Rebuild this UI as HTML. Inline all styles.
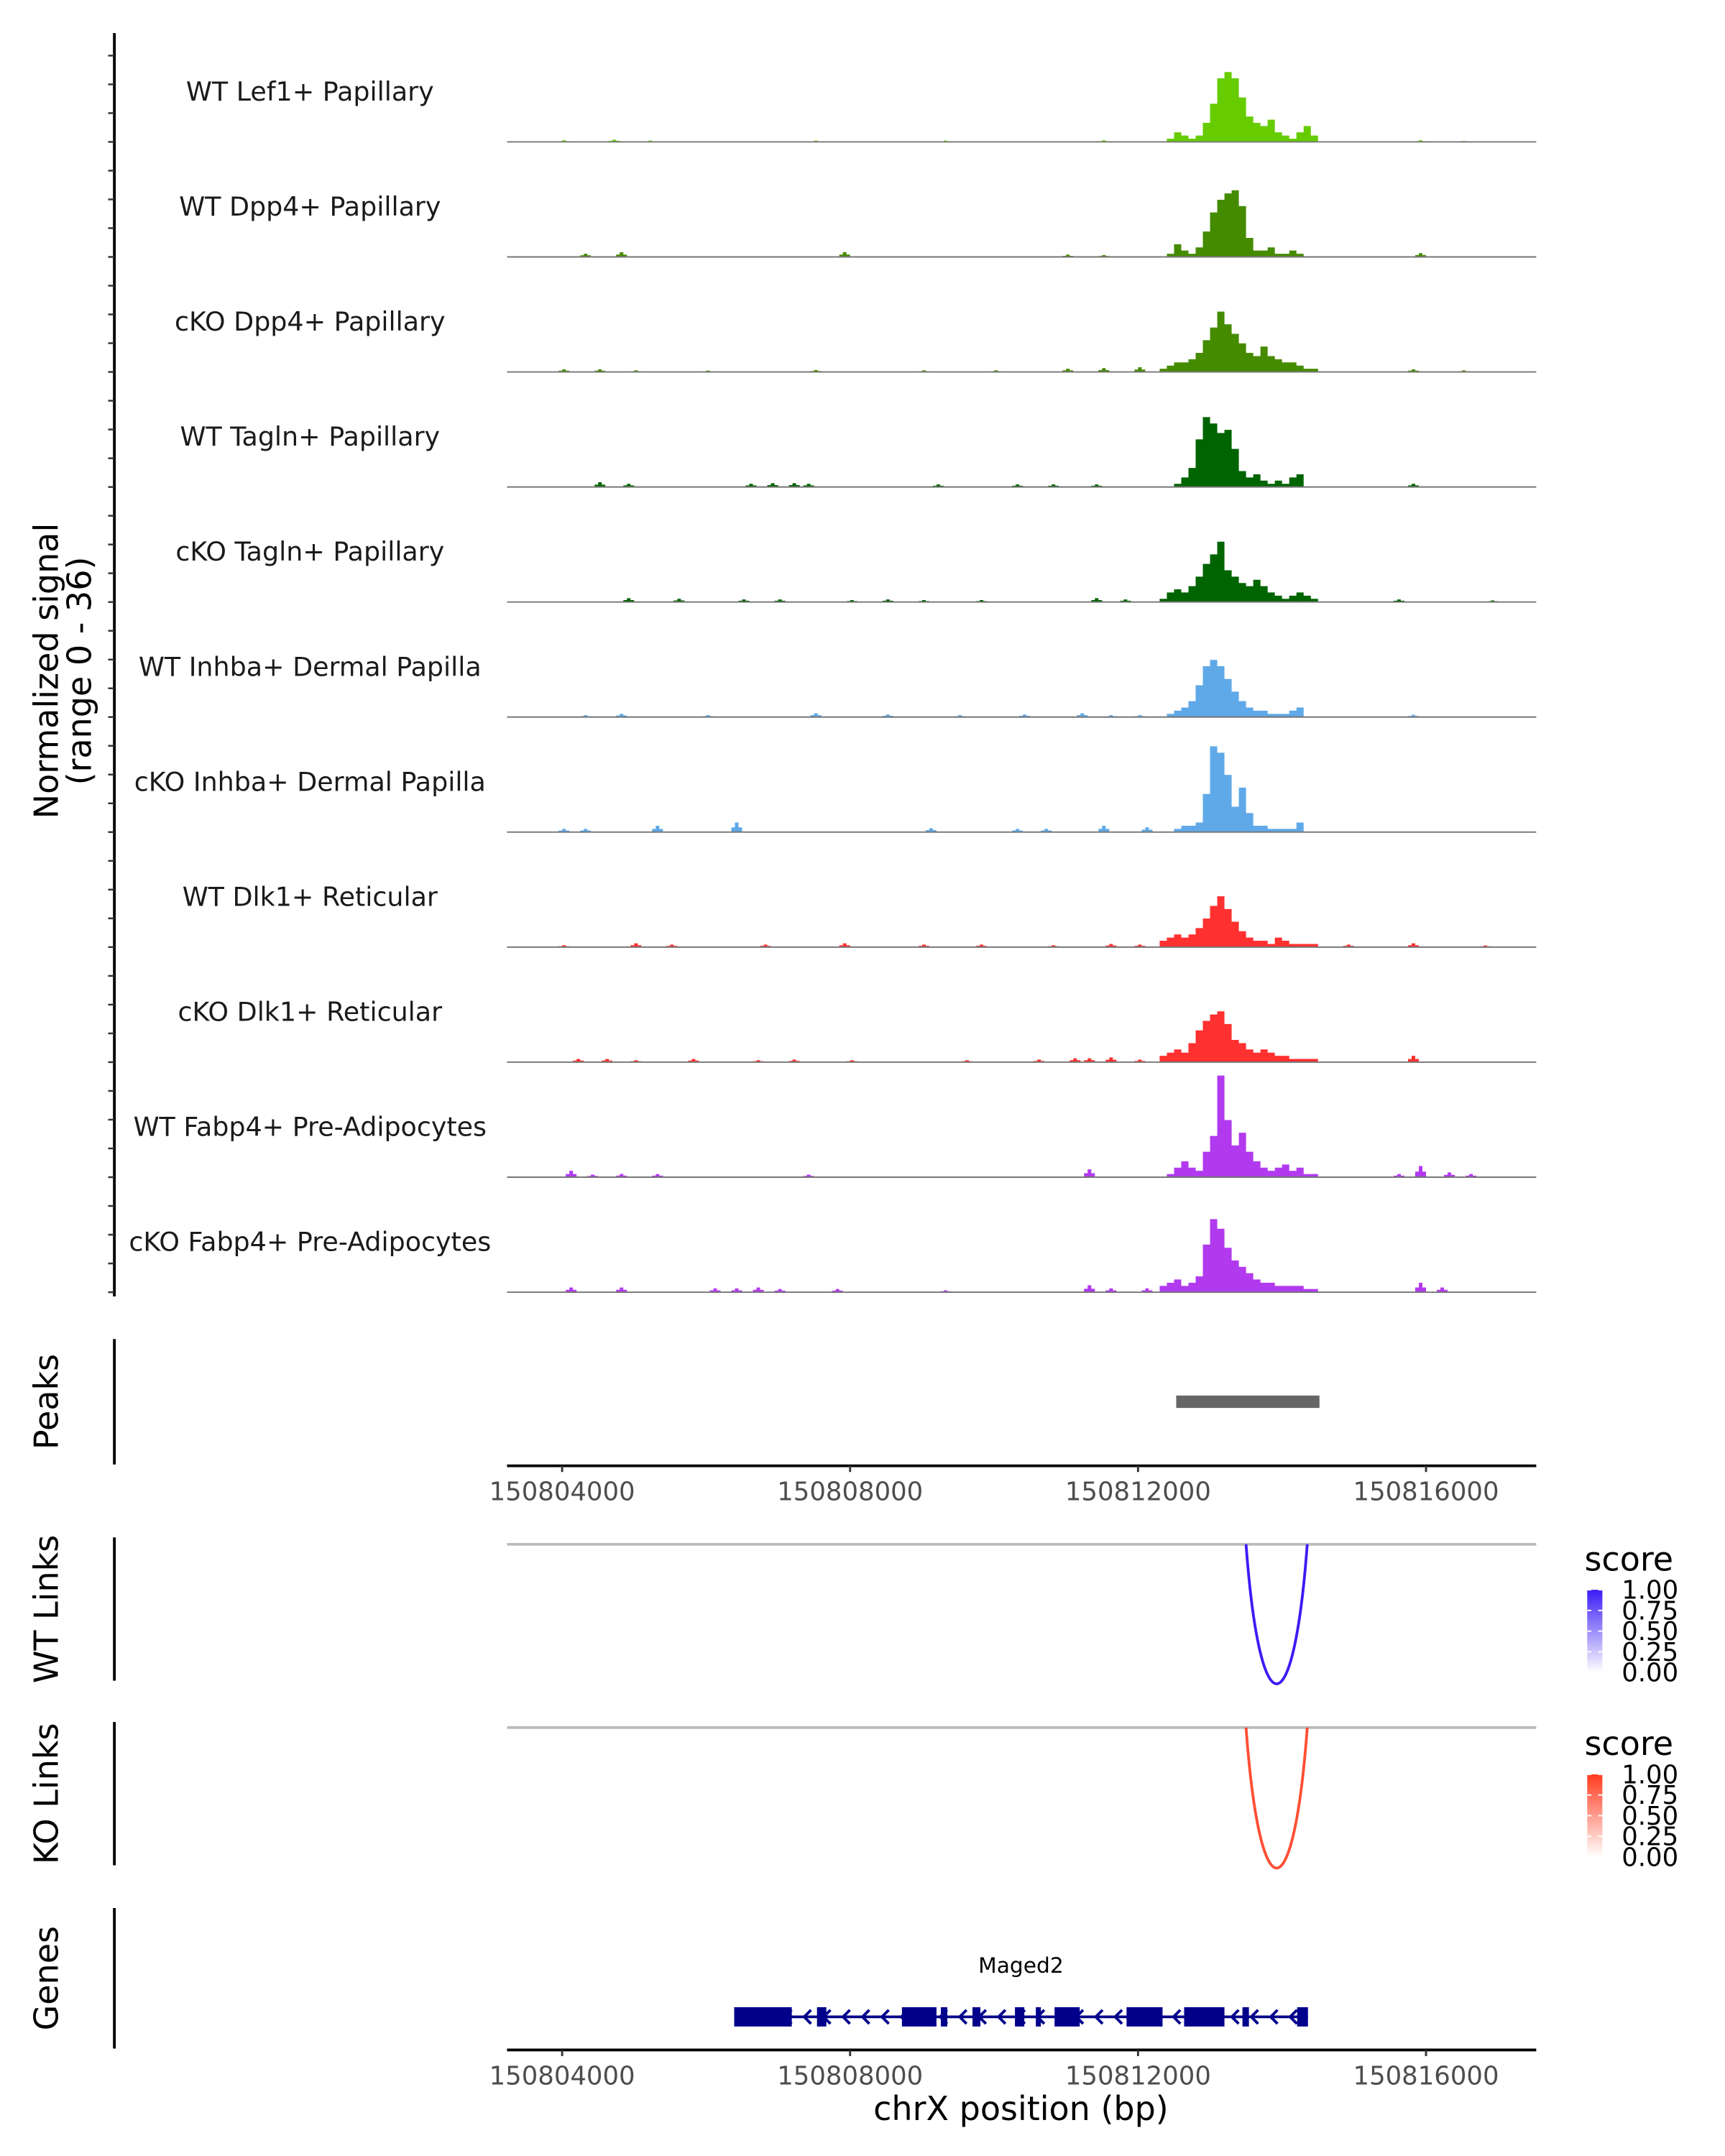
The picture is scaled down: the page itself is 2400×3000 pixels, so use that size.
<!DOCTYPE html>
<html><head><meta charset="utf-8"><style>
html,body{margin:0;padding:0;background:#fff}
svg{display:block}
text{font-family:"DejaVu Sans","Liberation Sans",sans-serif}
</style></head><body>
<svg id="chart" width="2400" height="3000" viewBox="0 0 1252 1565" xmlns="http://www.w3.org/2000/svg">
<g id="root"></g>
</svg>
<script>
// ---- data ----
const trackNames = ["WT Lef1+ Papillary","WT Dpp4+ Papillary","cKO Dpp4+ Papillary","WT Tagln+ Papillary","cKO Tagln+ Papillary","WT Inhba+ Dermal Papilla","cKO Inhba+ Dermal Papilla","WT Dlk1+ Reticular","cKO Dlk1+ Reticular","WT Fabp4+ Pre-Adipocytes","cKO Fabp4+ Pre-Adipocytes"];
const trackColors = ["#66cc00","#458b00","#458b00","#006400","#006400","#5fa9e8","#5fa9e8","#ff3030","#ff3030","#b23aee","#b23aee"];
// main peak region: 100bp bins starting at 150812300
const mainStart = 150812300;
const mainLef1 = [0,1,3,2,1,2,6,12,20,22,20,14,8,6,5,7,3,2,1,3,5,2];
const mainDpp4WT = [0,1,4,2,1,3,8,14,18,20,21,16,6,2,2,3,1,1,2,1,0,0];
const mainDpp4KO = [1,2,3,3,4,6,10,14,19,15,12,9,6,5,8,5,4,3,3,2,1,1];
const mainTaglnWT = [0,0,1,3,6,15,22,20,17,18,12,5,3,4,2,1,2,1,3,4,0,0];
const mainTaglnKO = [1,3,4,3,5,8,12,15,19,10,8,6,5,7,5,3,2,1,2,3,2,1];
const mainInhbaWT = [0,1,2,3,5,10,16,18,16,12,8,5,3,2,2,1,1,1,2,3,0,0];
const mainInhbaKO = [0,0,1,2,2,3,12,27,25,18,8,14,6,2,2,1,1,1,1,3,0,0];
const mainDlk1WT = [2,3,4,3,4,6,9,13,16,12,8,5,3,2,2,1,3,2,1,1,1,1];
const mainDlk1KO = [2,3,4,3,6,10,13,15,16,12,7,6,4,3,4,3,2,2,1,1,1,1];
const mainFabp4WT = [0,1,3,5,3,2,8,13,32,18,10,14,8,5,3,2,3,4,2,3,1,1];
const mainFabp4KO = [2,3,4,2,3,5,15,23,20,14,10,8,6,4,3,3,2,2,2,2,1,1];
// minor bumps: [kb offset from 150800000, height]
const minorLef1 = [[4.0,0.5],[4.7,0.7],[5.2,0.4],[7.5,0.4],[9.3,0.4],[11.5,0.5],[15.9,0.5],[16.5,0.3]];
const minorDpp4WT = [[4.3,1],[4.8,1.5],[7.9,1.5],[11.0,0.7],[11.5,0.6],[15.9,1.2]];
const minorDpp4KO = [[4.0,0.8],[4.5,0.8],[5.0,0.5],[6.0,0.4],[7.5,0.6],[9.0,0.5],[10.0,0.5],[11.0,1],[11.5,1.2],[12.0,1.5],[15.8,0.8],[16.5,0.5]];
const minorTaglnWT = [[4.5,1.5],[4.9,1],[6.6,1],[6.9,1.2],[7.2,1.2],[7.4,1],[9.2,0.8],[10.3,0.8],[10.8,0.8],[11.4,0.8],[15.8,1]];
const minorTaglnKO = [[4.9,1.2],[5.6,1],[6.5,0.8],[7.0,0.8],[8.0,0.6],[8.5,0.8],[9.0,0.6],[9.8,0.6],[11.4,1.2],[11.8,0.8],[15.6,0.8],[16.9,0.5]];
const minorInhbaWT = [[4.3,0.6],[4.8,1],[6.0,0.6],[7.5,1.2],[8.5,0.8],[9.5,0.6],[10.4,0.8],[11.2,1.2],[11.6,0.6],[12.0,0.6],[15.8,0.7]];
const minorInhbaKO = [[4.0,1],[4.3,1],[5.3,2],[6.4,3],[9.1,1.2],[10.3,1],[10.7,1],[11.5,2],[12.1,1.5]];
const minorDlk1WT = [[4.0,0.6],[5.0,1.2],[5.5,0.8],[6.8,0.8],[7.9,1.2],[9.0,0.8],[9.8,0.8],[10.8,0.6],[11.6,1],[12.0,0.8],[14.9,0.8],[15.8,1.2],[16.8,0.5]];
const minorDlk1KO = [[4.2,1],[4.6,1],[5.0,0.6],[5.8,1],[6.7,0.6],[7.2,0.8],[8.0,0.6],[9.6,0.6],[10.6,0.8],[11.1,1.2],[11.3,1.2],[11.6,1.5],[12.0,0.8],[15.8,2]];
const minorFabp4WT = [[4.1,2],[4.4,0.8],[4.8,1],[5.3,1],[7.4,0.8],[11.3,2.5],[15.6,1],[15.9,3.5],[16.3,1.5],[16.6,1]];
const minorFabp4KO = [[4.1,1.5],[4.8,1.5],[6.1,1.2],[6.4,1.2],[6.7,1.5],[7.0,1],[7.8,1],[9.3,0.6],[11.3,2.2],[11.6,1.2],[12.1,1.2],[15.9,3],[16.2,1.5]];
const mainArrays = [mainLef1,mainDpp4WT,mainDpp4KO,mainTaglnWT,mainTaglnKO,mainInhbaWT,mainInhbaKO,mainDlk1WT,mainDlk1KO,mainFabp4WT,mainFabp4KO];
const minorArrays = [minorLef1,minorDpp4WT,minorDpp4KO,minorTaglnWT,minorTaglnKO,minorInhbaWT,minorInhbaKO,minorDlk1WT,minorDlk1KO,minorFabp4WT,minorFabp4KO];
const xTicks = [150804000,150808000,150812000,150816000];
const peakRegions = [[150812530,150814520]];
const wtLinks = [[150813500,150814350,1.0]];
const koLinks = [[150813500,150814350,0.9]];
const exons = [[6.39,7.19],[7.54,7.67],[8.72,9.20],[9.26,9.35],[9.70,9.81],[10.29,10.42],[10.58,10.65],[10.84,11.19],[11.84,12.34],[12.64,13.20],[13.45,13.54],[14.21,14.36]];
const geneSpan = [6.39,14.36];
const legendLabels = ["1.00","0.75","0.50","0.25","0.00"];

// ---- scales ----
const NS="http://www.w3.org/2000/svg";
const root=document.getElementById('root');
const X0=368,X1=1115;
function xs(bp){return 408+(bp-150804000)/4000*209;}
function xk(kb){return xs(150800000+kb*1000);}
function el(tag,attrs,parent){const e=document.createElementNS(NS,tag);for(const k in attrs)e.setAttribute(k,attrs[k]);(parent||root).appendChild(e);return e;}
function txt(s,attrs){const t=el('text',attrs);t.textContent=s;return t;}

const base0=103, step=83.5, H=83;
let ax=el('line',{x1:83,y1:24,x2:83,y2:941,stroke:'#000','stroke-width':2});


for(let y=base0-3*step/4;y<=941;y+=step/4){
  const t=el('line',{x1:78.5,y1:y,x2:83,y2:y,stroke:'#333','stroke-width':1.3});
  
  
}
let yt=txt('Normalized signal',{x:0,y:0,'font-size':24,'text-anchor':'middle',transform:'translate(42,487) rotate(-90)',fill:'#000'});


let yt2=txt('(range 0 - 36)',{x:0,y:0,'font-size':24,'text-anchor':'middle',transform:'translate(66,487) rotate(-90)',fill:'#000'});



const binStart=150803800, binEnd=150817000, bw=50;
for(let t=0;t<trackNames.length;t++){
  const nb=(binEnd-binStart)/bw; const v=new Array(nb).fill(0);
  mainArrays[t].forEach((val,i)=>{const b=(mainStart+i*100-binStart)/bw; if(b>=0&&b+1<nb){v[b]=Math.max(v[b],val);v[b+1]=Math.max(v[b+1],val);} });
  minorArrays[t].forEach(([kb,h])=>{const b=Math.round((150800000+kb*1000-binStart)/bw); if(b>=1&&b+1<nb){v[b]=Math.max(v[b],h);v[b-1]=Math.max(v[b-1],h*0.5);v[b+1]=Math.max(v[b+1],h*0.5);} });
  const by=base0+t*step;
  let d='M'+xs(binStart)+','+by;
  for(let i=0;i<nb;i++){const x0=xs(binStart+i*bw),x1=xs(binStart+(i+1)*bw),y=by-v[i]/36*H;d+=' L'+x0.toFixed(2)+','+y.toFixed(2)+' L'+x1.toFixed(2)+','+y.toFixed(2);}
  d+=' L'+xs(binEnd)+','+by+' Z';
  const g=el('g',{});
  
  
  const area=el('path',{d:d,fill:trackColors[t]},g);
  
  
  const bl=el('line',{x1:X0,y1:by,x2:X1,y2:by,stroke:'#777','stroke-width':1},g);
  
  
  const lab=txt(trackNames[t],{x:225,y:by-30,'font-size':19,'text-anchor':'middle',fill:'#1a1a1a'});
  
  
}

function leftPanel(y1,y2,title,name){
  const l=el('line',{x1:83,y1:y1,x2:83,y2:y2,stroke:'#000','stroke-width':2});
  
  
  const t=txt(title,{x:0,y:0,'font-size':24,'text-anchor':'middle',transform:'translate(42,'+((y1+y2)/2)+') rotate(-90)',fill:'#000'});
  
  
}
leftPanel(972,1063,'Peaks','peaks');
peakRegions.forEach(p=>{const r=el('rect',{x:xs(p[0]),y:1013,width:xs(p[1])-xs(p[0]),height:9,fill:'#666'});
  
  });
function xAxis(y,name){
  const l=el('line',{x1:X0,y1:y,x2:X1,y2:y,stroke:'#000','stroke-width':2});
  
  
  xTicks.forEach(v=>{const tk=el('line',{x1:xs(v),y1:y,x2:xs(v),y2:y+4.5,stroke:'#333','stroke-width':1.5});
    
    
    const tl=txt(String(v),{x:xs(v),y:y+25,'font-size':18.5,'text-anchor':'middle',fill:'#4d4d4d'});
    
    });
}
xAxis(1064,'peaks-x-axis');

function linkPanel(y1,y2,topY,bottomY,links,c1,title,name,legY){
  leftPanel(y1,y2,title,name);
  const gl=el('line',{x1:X0,y1:topY,x2:X1,y2:topY,stroke:'#bbb','stroke-width':2});
  
  
  links.forEach(([a,b,s])=>{const xa=xs(a),xb=xs(b),xm=(xa+xb)/2;
    const p=el('path',{d:`M${xa},${topY} C${xa+ (xm-xa)*0.45},${bottomY+40} ${xb-(xb-xm)*0.45},${bottomY+40} ${xb},${topY}`,fill:'none',stroke:c1,'stroke-width':2,'stroke-opacity':s});
    
    });
  const gid='grad-'+name;
  const defs=el('defs',{});const lg=el('linearGradient',{id:gid,x1:0,y1:1,x2:0,y2:0},defs);
  el('stop',{offset:0,'stop-color':'#fff'},lg);el('stop',{offset:1,'stop-color':c1},lg);
  const st=txt('score',{x:1150,y:legY,'font-size':24,fill:'#000'});
  
  
  const bar=el('rect',{x:1152,y:legY+14,width:11,height:60,fill:`url(#${gid})`});
  
  
  legendLabels.forEach((s,i)=>{const yy=legY+14+i*15;
    el('line',{x1:1152,y1:yy,x2:1155,y2:yy,stroke:'#fff','stroke-width':1});
    el('line',{x1:1160,y1:yy,x2:1163,y2:yy,stroke:'#fff','stroke-width':1});
    const l=txt(s,{x:1177,y:yy+6.5,'font-size':18.5,fill:'#000'});
    
    });
}
linkPanel(1116,1220,1121,1216,wtLinks,'#3b1cf5','WT Links','wt-links',1140);
linkPanel(1250,1354,1254,1350,koLinks,'#ff3b1f','KO Links','ko-links',1274);

leftPanel(1385,1487,'Genes','genes');
const gy=1464;
const gl=el('line',{x1:xk(geneSpan[0]),y1:gy,x2:xk(geneSpan[1]),y2:gy,stroke:'#00008b','stroke-width':2});


for(let k=geneSpan[0]+0.2;k<geneSpan[1]-0.1;k+=0.27){const x=xk(k);
  const a=el('path',{d:`M${x+3},${gy-5} L${x-2},${gy} L${x+3},${gy+5}`,fill:'none',stroke:'#00008b','stroke-width':2});
  
  }
exons.forEach(([a,b])=>{const r=el('rect',{x:xk(a),y:gy-7,width:xk(b)-xk(a),height:14,fill:'#00008b'});
  
  });
const gn=txt('Maged2',{x:741,y:1432,'font-size':15.5,'text-anchor':'middle',fill:'#000'});


xAxis(1488,'genes-x-axis');
const xt=txt('chrX position (bp)',{x:741,y:1539,'font-size':24,'text-anchor':'middle',fill:'#000'});


</script>
</body></html>
